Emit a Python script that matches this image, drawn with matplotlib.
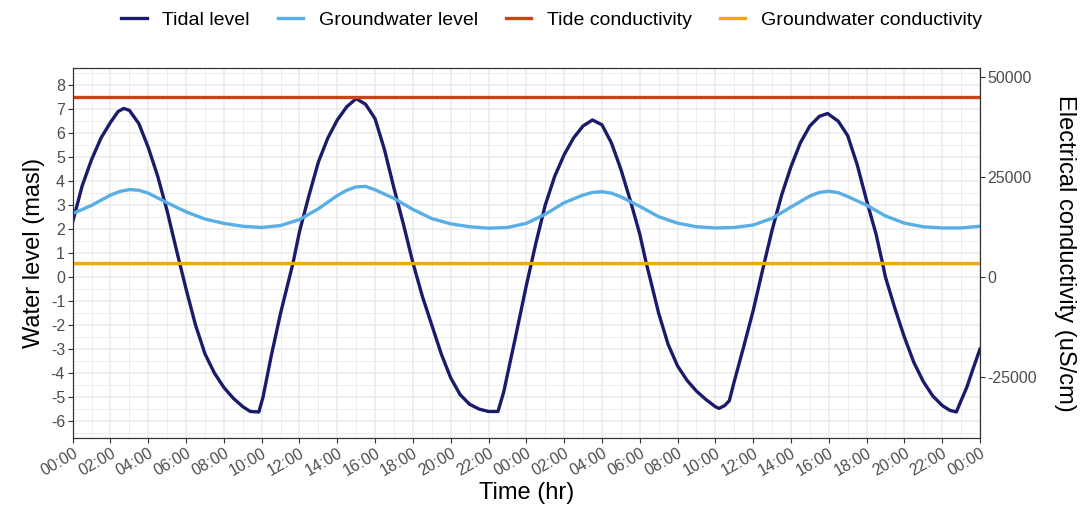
import numpy as np
import matplotlib
matplotlib.use("Agg")
import matplotlib.pyplot as plt
from matplotlib.ticker import MultipleLocator

plt.rcParams['font.family'] = ['Liberation Sans', 'DejaVu Sans']
plt.rcParams['axes.unicode_minus'] = False

# tidal level (masl)
tide_hours = [0, 0.5, 1, 1.5, 2, 2.4, 2.7, 3, 3.5, 4, 4.5, 5, 5.5, 6, 6.5, 7, 7.5, 8, 8.5,
              9, 9.4, 9.85, 10.07, 10.5, 11, 11.66, 12, 12.5, 13, 13.5, 14, 14.5, 15, 15.5,
              16, 16.5, 17, 17.5, 18, 18.5, 19, 19.5, 20, 20.5, 21, 21.5, 22, 22.5, 22.8,
              23.1, 23.4, 24, 24.5, 25, 25.5, 26, 26.5, 27, 27.5, 28, 28.5, 29, 29.5, 30,
              30.34, 30.5, 31, 31.5, 32, 32.5, 33, 33.5, 34, 34.2, 34.5, 34.74, 35, 35.5,
              36, 36.59, 37, 37.5, 38, 38.5, 39, 39.5, 39.94, 40.5, 41, 41.5, 42, 42.5,
              42.84, 43, 43.5, 44, 44.5, 45, 45.5, 46, 46.4, 46.75, 47, 47.3, 47.6, 48]
tide_level = [2.3, 3.8, 4.9, 5.8, 6.45, 6.9, 7.03, 6.95, 6.4, 5.4, 4.2, 2.75, 1.1, -0.5, -2.0,
              -3.2, -4.0, -4.6, -5.05, -5.4, -5.6, -5.62, -5.0, -3.3, -1.5, 0.6, 1.9, 3.4,
              4.8, 5.8, 6.55, 7.1, 7.44, 7.2, 6.6, 5.3, 3.7, 2.2, 0.6, -0.8, -2.0, -3.2,
              -4.2, -4.9, -5.3, -5.5, -5.6, -5.6, -4.8, -3.7, -2.6, -0.35, 1.4, 3.0, 4.2,
              5.1, 5.8, 6.3, 6.55, 6.35, 5.6, 4.5, 3.2, 1.8, 0.6, 0.1, -1.5, -2.8, -3.7,
              -4.3, -4.75, -5.1, -5.4, -5.47, -5.35, -5.15, -4.35, -2.9, -1.4, 0.6, 1.95,
              3.4, 4.6, 5.6, 6.3, 6.7, 6.82, 6.5, 5.9, 4.7, 3.2, 1.8, 0.6, 0.0, -1.3,
              -2.5, -3.55, -4.35, -4.95, -5.35, -5.55, -5.62, -5.15, -4.6, -3.9, -3.0]

# groundwater level (masl)
gw_hours = [0, 1, 2, 2.5, 3, 3.5, 4, 5, 6, 7, 8, 9, 10, 11, 12, 13, 14, 14.5, 15, 15.5, 16,
            17, 18, 19, 20, 21, 22, 23, 24, 25, 26, 27, 27.5, 28, 28.5, 29, 30, 31, 32, 33,
            34, 35, 36, 37, 38, 39, 39.5, 40, 40.5, 41, 42, 43, 44, 45, 46, 47, 48]
gw_level = [2.65, 2.99, 3.42, 3.57, 3.65, 3.62, 3.5, 3.1, 2.72, 2.42, 2.24, 2.12, 2.07,
            2.15, 2.4, 2.85, 3.4, 3.62, 3.76, 3.78, 3.64, 3.28, 2.82, 2.44, 2.22, 2.1, 2.04,
            2.07, 2.24, 2.62, 3.1, 3.42, 3.53, 3.56, 3.5, 3.35, 2.95, 2.52, 2.25, 2.1, 2.05,
            2.07, 2.17, 2.45, 2.92, 3.38, 3.53, 3.58, 3.52, 3.36, 3.0, 2.55, 2.25, 2.1, 2.05,
            2.05, 2.12]

# conductivity (uS/cm)
ec_hours = [0, 48]
tide_ec = [45000, 45000]
gw_ec = [3600, 3600]

ec_scale = 6000  # secondary axis: EC = level * 6000
ylo, yhi = -6.72, 8.70

fig = plt.figure(figsize=(10.88, 5.2), dpi=100)
ax = fig.add_axes([0.0668, 0.157, 0.8339, 0.7115])
ax2 = ax.twinx()

l1, = ax.plot(tide_hours, tide_level, color='#1b1b6b', lw=2.4, label='Tidal level',
              solid_joinstyle='round')
l2, = ax.plot(gw_hours, gw_level, color='#5aaee6', lw=2.4, label='Groundwater level',
              solid_joinstyle='round')
l3, = ax2.plot(ec_hours, tide_ec, color='#cc4212', lw=2.4, label='Tide conductivity')
l4, = ax2.plot(ec_hours, gw_ec, color='#f5a712', lw=2.4, label='Groundwater conductivity')

ax.set_xlim(0, 48)
ax.set_ylim(ylo, yhi)
ax2.set_ylim(ylo * ec_scale, yhi * ec_scale)

ax.set_xticks(range(0, 49, 2))
ax.set_xticklabels(['%02d:00' % (h % 24) for h in range(0, 49, 2)],
                   rotation=30, ha='right', va='top', rotation_mode='anchor')
ax.xaxis.set_minor_locator(MultipleLocator(1))
ax.set_yticks(range(-6, 9))
ax.yaxis.set_minor_locator(MultipleLocator(0.5))
ax2.set_yticks([-25000, 0, 25000, 50000])

ax.set_axisbelow(True)
ax.grid(which='major', color='#ebebeb', lw=1.1)
ax.grid(which='minor', color='#ebebeb', lw=0.6)

for a in (ax, ax2):
    a.tick_params(which='major', length=3.5, width=0.8, color='#333333',
                  labelcolor='#4d4d4d', labelsize=11.5, pad=2)
    a.tick_params(which='minor', length=0)
    for s in a.spines.values():
        s.set_color('#333333')
        s.set_linewidth(0.8)

ax.set_xlabel('Time (hr)', fontsize=17, labelpad=2)
ax.set_ylabel('Water level (masl)', fontsize=17, labelpad=4)
ax2.set_ylabel('Electrical conductivity (uS/cm)', fontsize=17, rotation=-90, labelpad=28)

fig.legend(handles=[l1, l2, l3, l4], loc='center', bbox_to_anchor=(0.507, 0.962),
           ncol=4, frameon=False, fontsize=14, handlelength=1.3, handletextpad=0.8,
           columnspacing=1.45)

fig.savefig('out.png', dpi=100)
